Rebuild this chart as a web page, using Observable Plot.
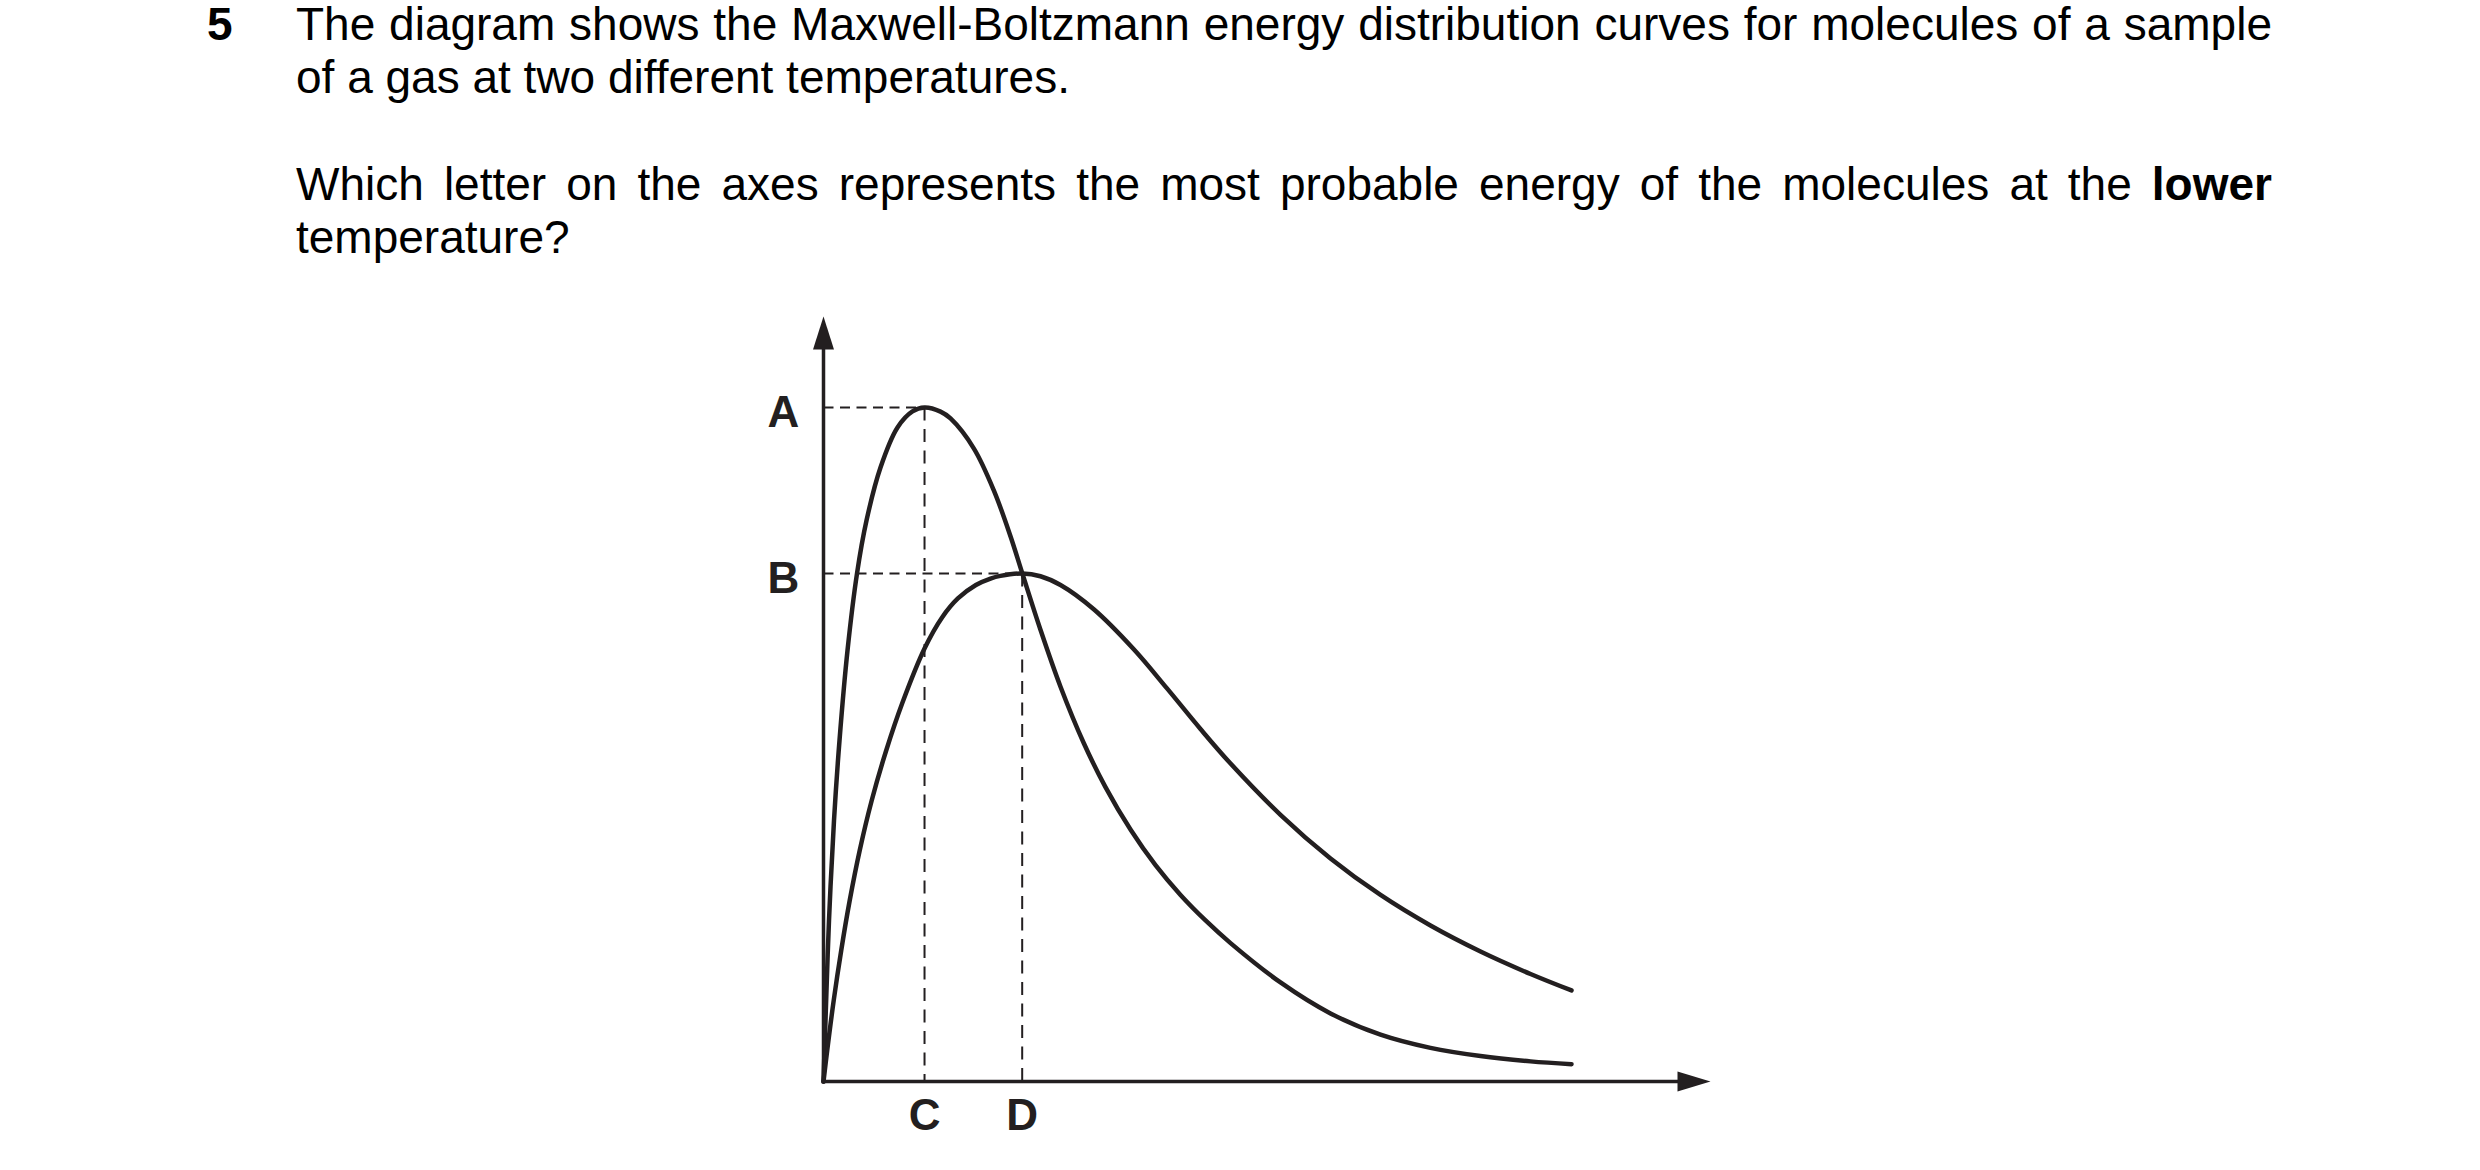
<!DOCTYPE html>
<html>
<head>
<meta charset="utf-8">
<script src="https://cdn.jsdelivr.net/npm/d3@7"></script>
<script src="https://cdn.jsdelivr.net/npm/@observablehq/plot@0.6"></script>
<style>
  html, body { margin: 0; padding: 0; background: #fff; }
  body { width: 2480px; height: 1170px; overflow: hidden; position: relative;
         font-family: "Liberation Sans", Arial, Helvetica, sans-serif; color: #000; }
  #question { position: relative; height: 280px; font-size: 46px; line-height: 46px; }
  #question .ln { position: absolute; left: 296px; white-space: nowrap; }
  #question .just { width: 1976px; white-space: normal; text-align: justify; text-align-last: justify; }
  #num { position: absolute; left: 207px; top: 0.5px; font-weight: bold; }
  #chart svg { display: block; }
</style>
</head>
<body>
<div id="question">
  <div id="num">5</div>
  <div class="ln just" style="top:0.5px">The diagram shows the Maxwell-Boltzmann energy distribution curves for molecules of a sample</div>
  <div class="ln" style="top:54px">of a gas at two different temperatures.</div>
  <div class="ln just" style="top:161px">Which letter on the axes represents the most probable energy of the molecules at the <b>lower</b></div>
  <div class="ln" style="top:214px">temperature?</div>
</div>
<div id="chart"></div>
<script>
// ---- data (energy on x, fraction of molecules on y; arbitrary units 0–100) ----
const lowTEnergy   = [0, 0.225, 0.620, 1.184, 1.804, 2.706, 3.777, 4.848, 6.426, 8.343, 10.03, 11.39, 13.19, 14.32, 16.94, 19.20, 21.08, 22.40, 24.46, 26.72, 29.35, 31.79, 34.61, 37.43, 40.25, 43.07, 45.89, 51.52, 57.16, 62.80, 68.43, 74.07, 79.71, 84.33];
const lowTFraction = [0, 7.97, 21.05, 34.12, 44.58, 56.34, 66.41, 73.33, 80.26, 85.49, 87.59, 88.10, 87.57, 86.67, 82.77, 77.28, 71.28, 66.47, 59.06, 51.61, 44.22, 38.48, 32.93, 28.27, 24.38, 21.05, 18.09, 12.95, 8.90, 6.12, 4.39, 3.32, 2.63, 2.27];

const highTEnergy   = [0, 0.417, 1.150, 1.995, 2.954, 4.081, 5.434, 7.069, 8.906, 11.39, 13.35, 15.15, 17.18, 18.83, 19.95, 22.40, 24.46, 26.72, 30.47, 34.98, 38.75, 42.50, 45.89, 51.52, 57.16, 62.80, 68.43, 74.07, 79.71, 84.33];
const highTFraction = [0, 4.05, 10.59, 17.12, 23.66, 30.20, 36.73, 43.27, 49.54, 56.60, 60.63, 63.14, 64.90, 65.74, 66.09, 66.41, 66.05, 64.90, 61.73, 56.50, 51.35, 46.08, 41.57, 34.86, 29.15, 24.38, 20.39, 16.99, 14.05, 11.90];

const yLetters = ["A", "B"];
const yLetterLevels = [88.10, 66.41];
const xLetters = ["C", "D"];
const xLetterLevels = [11.39, 22.40];

const energyMax = 100;
const fractionMax = 100;

// ---- build tables ----
const ink = "#231f20";
const font = "'Liberation Sans', Arial, Helvetica, sans-serif";

const lowT = lowTEnergy.map((e, i) => ({energy: e, fraction: lowTFraction[i]}));
const highT = highTEnergy.map((e, i) => ({energy: e, fraction: highTFraction[i]}));

const hGuides = yLetters.map((_, i) => ({x1: 0, y1: yLetterLevels[i], x2: xLetterLevels[i], y2: yLetterLevels[i]}));
const vGuides = xLetters.map((_, i) => ({x1: xLetterLevels[i], y1: yLetterLevels[i], x2: xLetterLevels[i], y2: 0}));

const yLabels = yLetters.map((t, i) => ({t, energy: 0, fraction: yLetterLevels[i]}));
const xLabels = xLetters.map((t, i) => ({t, energy: xLetterLevels[i], fraction: 0}));

const axes = [
  {x1: 0, y1: 0, x2: 0, y2: fractionMax * 0.97},
  {x1: 0, y1: 0, x2: energyMax * 0.97, y2: 0}
];

const arrowUp = {
  draw(ctx) { ctx.moveTo(0, 0); ctx.lineTo(-10.5, 33); ctx.lineTo(10.5, 33); ctx.closePath(); }
};
const arrowRight = {
  draw(ctx) { ctx.moveTo(0, 0); ctx.lineTo(-33, -10); ctx.lineTo(-33, 10); ctx.closePath(); }
};

const chart = Plot.plot({
  width: 2480,
  height: 890,
  marginLeft: 823,
  marginRight: 770,
  marginTop: 36,
  marginBottom: 89,
  x: {domain: [0, energyMax], axis: null},
  y: {domain: [0, fractionMax], axis: null},
  style: {background: "#fff", fontFamily: font},
  marks: [
    Plot.link(hGuides, {x1: "x1", y1: "y1", x2: "x2", y2: "y2", stroke: ink, strokeWidth: 2, strokeDasharray: "10,6.5"}),
    Plot.link(vGuides, {x1: "x1", y1: "y1", x2: "x2", y2: "y2", stroke: ink, strokeWidth: 2, strokeDasharray: "13,8.5"}),
    Plot.line(lowT, {x: "energy", y: "fraction", curve: "catmull-rom", stroke: ink, strokeWidth: 4.5}),
    Plot.line(highT, {x: "energy", y: "fraction", curve: "catmull-rom", stroke: ink, strokeWidth: 4.5}),
    Plot.link(axes, {x1: "x1", y1: "y1", x2: "x2", y2: "y2", stroke: ink, strokeWidth: 3.5, strokeLinecap: "square"}),
    Plot.dot([{energy: 0, fraction: fractionMax}], {x: "energy", y: "fraction", symbol: arrowUp, fill: ink, stroke: "none", r: 5}),
    Plot.dot([{energy: energyMax, fraction: 0}], {x: "energy", y: "fraction", symbol: arrowRight, fill: ink, stroke: "none", r: 5}),
    Plot.text(yLabels, {x: "energy", y: "fraction", text: "t", dx: -40, dy: 5, fontSize: 44, fontWeight: "bold", fontFamily: font, textAnchor: "middle", fill: ink}),
    Plot.text(xLabels, {x: "energy", y: "fraction", text: "t", dy: 34, fontSize: 44, fontWeight: "bold", fontFamily: font, textAnchor: "middle", fill: ink})
  ]
});
document.getElementById("chart").appendChild(chart);
</script>
</body>
</html>
